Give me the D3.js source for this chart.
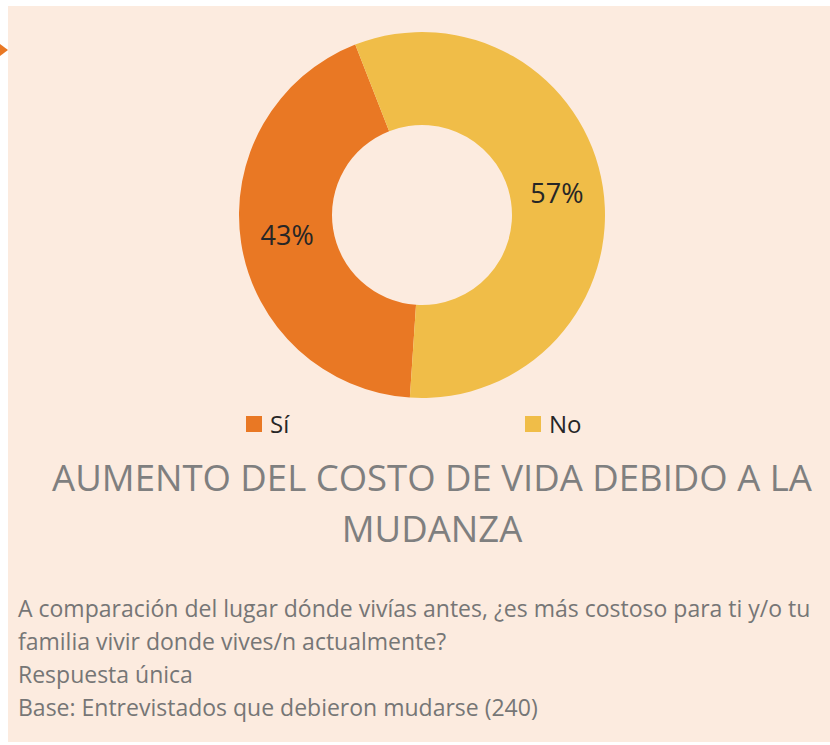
<!DOCTYPE html>
<html>
<head>
<meta charset="utf-8">
<script src="https://cdn.jsdelivr.net/npm/d3@7"></script>
<style>
  body { margin: 0; background: #ffffff; }
  svg { display: block; }
</style>
</head>
<body>
<svg class="chart"></svg>
<script>
// data
var categories = ["Sí", "No"];
var values = [43, 57];
var sliceColors = ["#E97824", "#F0BD48"];
var titleLines = ["AUMENTO DEL COSTO DE VIDA DEBIDO A LA", "MUDANZA"];
var noteLines = [
  "A comparación del lugar dónde vivías antes, ¿es más costoso para ti y/o tu",
  "familia vivir donde vives/n actualmente?",
  "Respuesta única",
  "Base: Entrevistados que debieron mudarse (240)"
];

var drawChart = function(w, h)
{
  var svg = d3.select(".chart")
              .attr("width", w)
              .attr("height", h);

  // peach panel
  svg.append("rect")
     .attr("x", 8)
     .attr("y", 6)
     .attr("width", w - 8)
     .attr("height", 736)
     .attr("fill", "#FCEBDF");

  // little arrow at left
  svg.append("path")
     .attr("d", "M0,44 L8,50 L0,56 Z")
     .attr("fill", "#E97824");

  var cx = 422, cy = 215;
  var outerR = 183, innerR = 90;

  var colors = d3.scaleOrdinal()
                 .domain(categories)
                 .range(sliceColors);

  var start = 183.8 * Math.PI / 180;
  var pie = d3.pie()
              .sort(null)
              .startAngle(start)
              .endAngle(start + 2 * Math.PI)
              .value(function(d) { return d.value; });

  var arc = d3.arc()
              .innerRadius(innerR)
              .outerRadius(outerR);

  var data = categories.map(function(c, i) { return {name: c, value: values[i]}; });

  var donut = svg.append("g")
                 .attr("transform", "translate(" + cx + "," + cy + ")");

  var slices = donut.selectAll("g")
                    .data(pie(data))
                    .enter()
                    .append("g");

  slices.append("path")
        .attr("d", arc)
        .attr("fill", function(d) { return colors(d.data.name); });

  var labelArc = d3.arc()
                   .innerRadius((innerR + outerR) / 2)
                   .outerRadius((innerR + outerR) / 2);

  slices.append("text")
        .attr("x", function(d) { return labelArc.centroid(d)[0]; })
        .attr("y", function(d) { return labelArc.centroid(d)[1]; })
        .attr("dy", "0.32em")
        .attr("text-anchor", "middle")
        .style("font-family", "'Open Sans', sans-serif")
        .style("font-size", "27px")
        .style("fill", "#262626")
        .text(function(d) { return d.data.value + "%"; });

  // legend
  var legendX = d3.scalePoint()
                  .domain(categories)
                  .range([246, 525]);

  var legend = svg.selectAll(".legendItem")
                  .data(categories)
                  .enter()
                  .append("g")
                  .classed("legendItem", true)
                  .attr("transform", function(d) { return "translate(" + legendX(d) + ",416)"; });

  legend.append("rect")
        .attr("width", 16)
        .attr("height", 16)
        .attr("fill", function(d) { return colors(d); });

  legend.append("text")
        .attr("x", 24)
        .attr("y", 17)
        .style("font-family", "'Open Sans', sans-serif")
        .style("font-size", "24px")
        .style("fill", "#262626")
        .text(function(d) { return d; });

  // title
  svg.selectAll(".title")
     .data(titleLines)
     .enter()
     .append("text")
     .classed("title", true)
     .attr("x", 432)
     .attr("y", function(d, i) { return 491 + i * 51; })
     .attr("text-anchor", "middle")
     .style("font-family", "'Open Sans', sans-serif")
     .style("font-size", "36.5px")
     .style("fill", "#7F7F7F")
     .text(function(d) { return d; });

  // notes
  svg.selectAll(".note")
     .data(noteLines)
     .enter()
     .append("text")
     .classed("note", true)
     .attr("x", 18)
     .attr("y", function(d, i) { return 617 + i * 33; })
     .style("font-family", "'Open Sans', sans-serif")
     .style("font-size", "23px")
     .style("fill", "#767676")
     .text(function(d) { return d; });
}

drawChart(830, 745);
</script>
</body>
</html>
